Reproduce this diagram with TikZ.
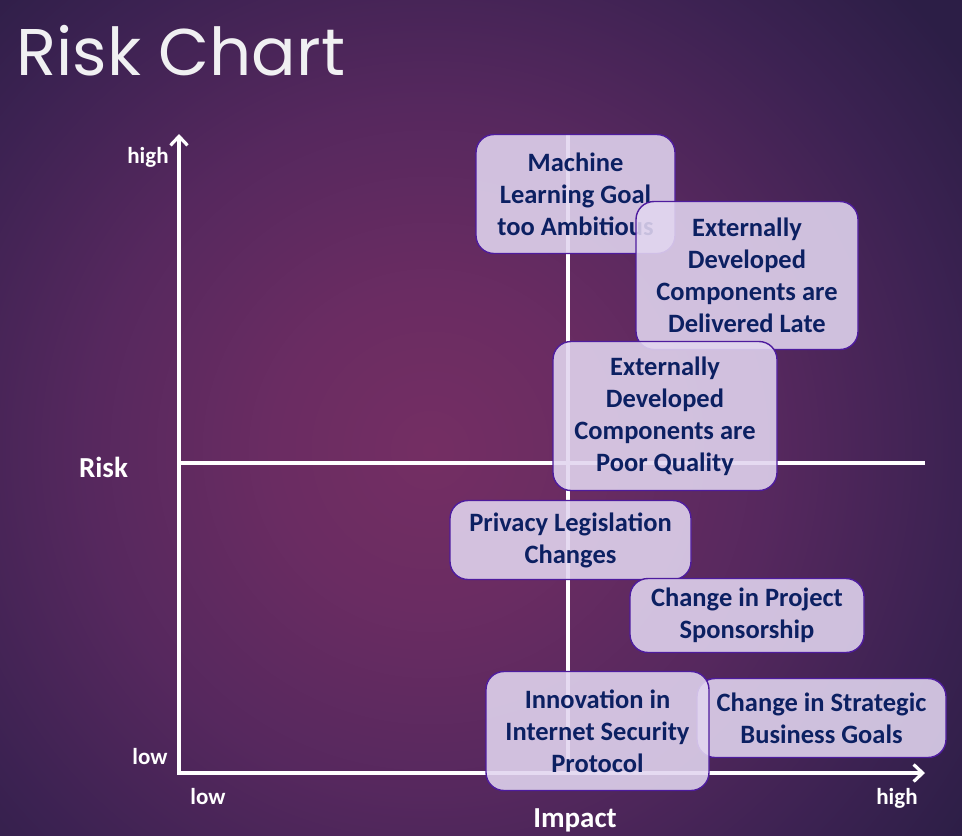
\documentclass[tikz,border=0pt]{standalone}
\usepackage{fontspec}
\setmainfont{Carlito}
\newfontfamily\titlefont{Poppins}
\usetikzlibrary{arrows.meta}

\definecolor{bgcenter}{RGB}{116,46,99}
\definecolor{bginner}{RGB}{106,44,98}
\definecolor{bgmid}{RGB}{86,40,94}
\definecolor{bgdark}{RGB}{60,34,82}
\definecolor{bgouter}{RGB}{44,30,70}
\definecolor{boxfill}{RGB}{226,214,240}
\definecolor{boxline}{RGB}{78,28,158}
\definecolor{boxtext}{RGB}{12,32,98}
\definecolor{titlegray}{RGB}{240,240,242}

\pgfdeclareradialshading{slideglow}{\pgfpoint{0bp}{0bp}}{%
  color(0bp)=(bgcenter); color(6bp)=(bginner); color(13bp)=(bgmid);
  color(20bp)=(bgdark); color(25bp)=(bgouter); color(50bp)=(bgouter)}

\tikzset{
  axisline/.style={white, line width=3.2pt, line join=miter},
  riskbox/.style={draw=boxline, line width=1.4pt, fill=boxfill, fill opacity=0.88,
    text opacity=1, text=boxtext, rounded corners=18pt, inner sep=0pt,
    align=center, font=\fontsize{26.5}{32}\selectfont\bfseries},
  ticklabel/.style={text=white, font=\fontsize{23}{26}\selectfont\bfseries, inner sep=0pt},
  axislabel/.style={text=white, font=\fontsize{29}{32}\selectfont\bfseries, inner sep=0pt}
}

\begin{document}
\begin{tikzpicture}[x=1pt,y=-1pt]
\useasboundingbox (0,0) rectangle (962,836);

% slide background
\fill[bgouter] (0,0) rectangle (962,836);
\begin{scope}
  \clip (0,0) rectangle (962,836);
  \shade[shading=slideglow] (430,450) circle[radius=660pt];
\end{scope}

% title
\node[anchor=base west, inner sep=0pt, text=titlegray,
      font=\titlefont\fontsize{66}{70}\selectfont] (title) at (16,75) {Risk Chart};

% axes
\coordinate (origin) at (179,773);
\coordinate (ytop) at (179,134);
\coordinate (xend) at (925,773);
\draw[axisline, {Straight Barb[length=9pt,width=17pt]}-{Straight Barb[length=9pt,width=17pt]}]
  (ytop) -- (origin) -- (xend);

% quadrant dividers
\coordinate (vtop) at (568,134);
\coordinate (vbot) at (568,773);
\coordinate (hleft) at (179,463);
\coordinate (hright) at (925,463);
\draw[axisline] (vtop) -- (vbot);
\draw[axisline] (hleft) -- (hright);

% axis labels
\node[ticklabel, anchor=base] (yhigh) at (148,163) {high};
\node[ticklabel, anchor=base] (ylow) at (150,764) {low};
\node[ticklabel, anchor=base] (xlow) at (208,804) {low};
\node[ticklabel, anchor=base] (xhigh) at (897,804) {high};
\node[axislabel, anchor=base] (risk) at (103.5,477) {Risk};
\node[axislabel, anchor=base] (impact) at (575,827) {Impact};

% risks
\node[riskbox, minimum width=199pt, minimum height=119pt] (ml) at (575.5,194)
  {Machine\\Learning Goal\\too Ambitious};
\node[riskbox, minimum width=222pt, minimum height=148pt] (late) at (747,275.5)
  {Externally\\Developed\\Components are\\Delivered Late};
\node[riskbox, minimum width=224pt, minimum height=149pt] (poor) at (665,416)
  {Externally\\Developed\\Components are\\Poor Quality};
\node[riskbox, minimum width=241pt, minimum height=79pt] (privacy) at (570.5,540)
  {Privacy Legislation\\Changes};
\node[riskbox, minimum width=234pt, minimum height=74pt] (sponsor) at (747,615.5)
  {Change in Project\\Sponsorship};
\node[riskbox, minimum width=249pt, minimum height=79pt] (strategy) at (821.5,718)
  {Change in Strategic\\Business Goals};
\node[riskbox, minimum width=223pt, minimum height=119pt] (security) at (597.5,731)
  {Innovation in\\Internet Security\\Protocol};
\end{tikzpicture}
\end{document}
